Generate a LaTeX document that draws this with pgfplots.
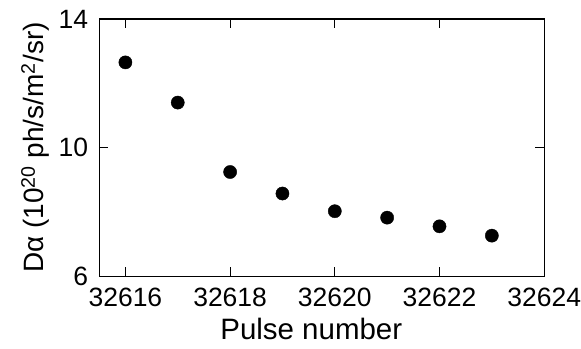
\documentclass[border=0pt]{standalone}
\usepackage{fontspec}
\setmainfont{Liberation Sans}
\usepackage{pgfplots}
\pgfplotsset{compat=1.18}
\begin{document}
\begin{tikzpicture}
\begin{axis}[
  scale only axis,
  width=445.2pt, height=257.3pt,
  xmin=32615.5, xmax=32624,
  ymin=6, ymax=14,
  xtick={32616,32618,32620,32622,32624},
  ytick={6,10,14},
  scaled ticks=false,
  xticklabel style={/pgf/number format/fixed, /pgf/number format/precision=0,
    anchor=north, inner sep=0pt, yshift=-11.5pt},
  yticklabel style={anchor=east, inner sep=0pt, xshift=-11pt},
  minor tick num=0,
  tick align=inside,
  major tick length=9pt,
  axis line style={line width=1.1pt},
  every tick/.style={line width=1.1pt, black},
  /pgf/number format/assume math mode=true,
  /pgf/number format/1000 sep={},
  tick label style={font=\fontsize{26.5}{28}\selectfont},
  xlabel={Pulse number},
  ylabel={Dα (10\textsuperscript{20} ph/s/m\textsuperscript{2}/sr)},
  xlabel style={font=\fontsize{29.5}{32}\selectfont, at={(axis description cs:0.4766,-0.162)}, anchor=north, inner sep=0pt},
  ylabel style={font=\fontsize{28}{30}\selectfont, at={(axis description cs:-0.111,0.5)}, anchor=south, inner sep=0pt},
  clip=false,
]
\addplot[only marks, mark=*, mark size=6.6pt, mark options={fill=black, draw=black}] coordinates {
(32616,12.65)
(32617,11.40)
(32618,9.24)
(32619,8.57)
(32620,8.02)
(32621,7.82)
(32622,7.55)
(32623,7.26)
};
\end{axis}
\path (-99.3pt,-72.7pt) rectangle (481.7pt,276.3pt);
\end{tikzpicture}
\end{document}
